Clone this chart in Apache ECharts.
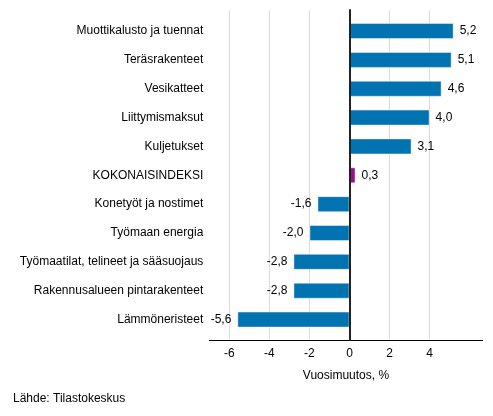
<!DOCTYPE html>
<html><head><meta charset="utf-8">
<script src="https://cdn.jsdelivr.net/npm/echarts@6/dist/echarts.min.js"></script>
<style>html,body{margin:0;padding:0;background:#fff}#c{width:493px;height:416px}</style>
</head><body><div id="c"></div>
<script>
const categories = ["Muottikalusto ja tuennat","Teräsrakenteet","Vesikatteet","Liittymismaksut","Kuljetukset","KOKONAISINDEKSI","Konetyöt ja nostimet","Työmaan energia","Työmaatilat, telineet ja sääsuojaus","Rakennusalueen pintarakenteet","Lämmöneristeet"];
const values = [5.2,5.1,4.6,4.0,3.1,0.3,-1.6,-2.0,-2.8,-2.8,-5.6];
const highlight = "KOKONAISINDEKSI";
const xTicks = [-6,-4,-2,0,2,4];
const FONT = "Liberation Sans, Arial, sans-serif";
const X_MIN = -7, X_MAX = 6.65;
const chart = echarts.init(document.getElementById('c'), null, {renderer:'canvas'});
chart.setOption({
  animation:false,
  grid:[
    {left:209.3,right:10.3,top:10,bottom:76,containLabel:false},
    {left:209.3,right:10.3,top:16.6,bottom:82,containLabel:false}
  ],
  xAxis:[
    {gridIndex:0,type:'value',min:X_MIN,max:X_MAX,z:0,
      name:'Vuosimuutos, %',nameLocation:'middle',nameGap:30,
      nameTextStyle:{color:'#000',fontSize:12,fontFamily:FONT},
      axisLine:{show:true,onZero:false,lineStyle:{color:'#000',width:1}},
      axisTick:{show:false,customValues:xTicks},
      axisLabel:{customValues:xTicks,color:'#000',fontSize:12,fontFamily:FONT,margin:8,
        formatter:v=>String(v).replace('.',',')},
      splitLine:{show:true,customValues:xTicks,lineStyle:{color:'#dcdcdc',width:1}}
    },
    {gridIndex:1,type:'value',min:X_MIN,max:X_MAX,show:false,splitLine:{show:false}}
  ],
  yAxis:[
    {gridIndex:0,type:'value',min:0,max:1,z:5,
      axisLine:{show:true,onZero:true,lineStyle:{color:'#222',width:2}},
      axisTick:{show:false},axisLabel:{show:false},splitLine:{show:false}},
    {gridIndex:1,type:'category',inverse:true,data:categories,
      axisLine:{show:false},axisTick:{show:false},splitLine:{show:false},
      axisLabel:{color:'#000',fontSize:12,fontFamily:FONT,margin:6,interval:0}}
  ],
  series:[{
    type:'bar',xAxisIndex:1,yAxisIndex:1,barWidth:16,z:2,
    data:values.map((v,i)=>({
      value:v,
      itemStyle:{color: categories[i]===highlight ? '#9b0d8f' : '#0073b0'},
      label:{position: v<0 ? 'left':'right'}
    })),
    itemStyle:{borderColor:'rgba(255,255,255,0.45)',borderWidth:1},
    label:{show:true,color:'#000',fontSize:12,fontFamily:FONT,distance:6,
      formatter:p=>p.value.toFixed(1).replace('.',',')}
  }],
  graphic:[{type:'text',left:13,top:393,style:{text:'Lähde: Tilastokeskus',fill:'#000',fontSize:12,fontFamily:FONT}}]
});
</script></body></html>
